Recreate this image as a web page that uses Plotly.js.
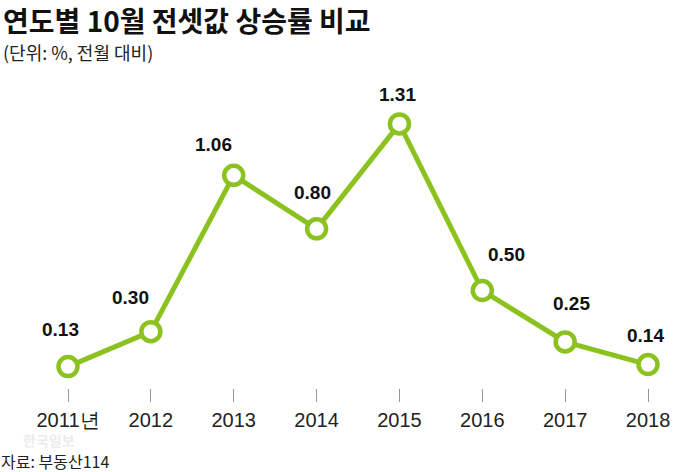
<!DOCTYPE html>
<html>
<head>
<meta charset="utf-8">
<script src="https://cdn.plot.ly/plotly-3.0.1.min.js"></script>
<style>html,body{margin:0;padding:0;background:#fff;}#chart{width:680px;height:472px;}</style>
</head>
<body>
<div id="chart"></div>
<script>
const years = ["2011년", "2012", "2013", "2014", "2015", "2016", "2017", "2018"];
const rates = [0.13, 0.30, 1.06, 0.80, 1.31, 0.50, 0.25, 0.14];
const rateLabels = ["0.13", "0.30", "1.06", "0.80", "1.31", "0.50", "0.25", "0.14"];
const labelShiftX = [-8, -20, -20, -4, -2, 24, 6, -3];
const labelShiftY = [37, 34, 31, 36, 29, 36, 38, 29];

const green = "#8cc220";
const xIdx = years.map((_, i) => i);

const trace = {
  x: xIdx,
  y: rates,
  type: "scatter",
  mode: "lines+markers",
  line: {color: green, width: 5},
  marker: {size: 19, color: "#ffffff", line: {color: green, width: 4.5}},
  hoverinfo: "skip"
};

// plot area: left 20, width 640, top 90, height 298
const px = v => (v - 20) / 640;
const py = v => (388 - v) / 298;

const annotations = rates.map((v, i) => ({
  x: xIdx[i], y: v, xref: "x", yref: "y",
  text: "<b>" + rateLabels[i] + "</b>", showarrow: false,
  xshift: labelShiftX[i], yshift: labelShiftY[i],
  font: {family: "Liberation Sans, Arial, sans-serif", size: 19, color: "#111"}
}));

annotations.push(
  {xref: "paper", yref: "paper", x: px(2), y: py(20), xanchor: "left", yanchor: "middle",
   text: "<b>연도별 10월 전셋값 상승률 비교</b>", showarrow: false, borderpad: 0,
   font: {family: "Noto Sans CJK KR, sans-serif", size: 28, color: "#111"}},
  {xref: "paper", yref: "paper", x: px(2), y: py(52), xanchor: "left", yanchor: "middle",
   text: "(단위: %, 전월 대비)", showarrow: false, borderpad: 0,
   font: {family: "Noto Sans CJK KR, sans-serif", size: 18, color: "#222"}},
  {xref: "paper", yref: "paper", x: px(22), y: py(440), xanchor: "left", yanchor: "middle",
   text: "<b>한국일보</b>", showarrow: false, borderpad: 0,
   font: {family: "Noto Sans CJK KR, sans-serif", size: 14, color: "#ececec"}},
  {xref: "paper", yref: "paper", x: px(0), y: py(461), xanchor: "left", yanchor: "middle",
   text: "자료: 부동산114", showarrow: false, borderpad: 0,
   font: {family: "Noto Sans CJK KR, sans-serif", size: 16, color: "#222"}}
);

const layout = {
  width: 680, height: 472,
  margin: {l: 20, r: 20, t: 90, b: 84},
  paper_bgcolor: "#ffffff", plot_bgcolor: "#ffffff",
  showlegend: false,
  xaxis: {
    range: [-(68 - 20) / 82.86, -(68 - 20) / 82.86 + 640 / 82.86],
    tickmode: "array", tickvals: xIdx, ticktext: years,
    ticks: "outside", ticklen: 13, tickwidth: 1, tickcolor: "#999",
    ticklabelstandoff: 1,
    showgrid: false, zeroline: false, showline: false,
    tickfont: {family: "Liberation Sans, Arial, sans-serif", size: 20, color: "#222"}
  },
  yaxis: {
    range: [0.026, 1.475],
    showgrid: false, zeroline: false, showline: false, showticklabels: false, ticks: ""
  },
  annotations: annotations
};

Plotly.newPlot("chart", [trace], layout, {displayModeBar: false, staticPlot: true});
</script>
</body>
</html>
